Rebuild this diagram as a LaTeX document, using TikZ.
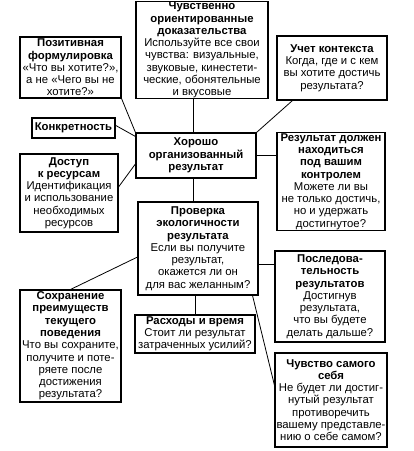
\documentclass[tikz,border=0pt]{standalone}
\usepackage{fontspec}
\setmainfont{Liberation Sans}
\usetikzlibrary{calc}
\tikzset{
  box/.style={draw=black, line width=0.8pt, align=center, inner sep=0.5pt,
    font=\fontsize{8.5}{9.2}\selectfont, fill=white},
  link/.style={draw=black, line width=0.6pt}
}
\begin{document}
\begin{tikzpicture}[x=0.75pt,y=-0.75pt]
\useasboundingbox[fill=white] (0,0) rectangle (414,451);
\node[box, minimum width=99pt, minimum height=72pt] (sens) at (202,50)
 {\textbf{Чувственно}\\\textbf{ориентированные}\\\textbf{доказательства}\\Используйте все свои\\чувства: визуальные,\\звуковые, кинестети-\\ческие, обонятельные\\и вкусовые};
\node[box, minimum width=75.75pt, minimum height=45.75pt] (pos) at (70.5,67.5)
 {\textbf{Позитивная}\\\textbf{формулировка}\\«Что вы хотите?»,\\а не «Чего вы не\\хотите?»};
\node[box, minimum width=82.5pt, minimum height=48pt] (ctx) at (332,68)
 {\textbf{Учет контекста}\\Когда, где и с кем\\вы хотите достичь\\результата?};
\node[box, minimum width=62.25pt, minimum height=15pt] (konk) at (73.5,128)
 {\textbf{Конкретность}};
\node[box, minimum width=73.5pt, minimum height=58.5pt] (dost) at (69,193)
 {\textbf{Доступ}\\\textbf{к ресурсам}\\Идентификация\\и использование\\необходимых\\ресурсов};
\node[box, minimum width=90pt, minimum height=33.75pt] (central) at (196,155.5)
 {\textbf{Хорошо}\\\textbf{организованный}\\\textbf{результат}};
\node[box, minimum width=81pt, minimum height=72.75pt] (ctrl) at (331,181.5)
 {\textbf{Результат должен}\\\textbf{находиться}\\\textbf{под вашим}\\\textbf{контролем}\\Можете ли вы\\не только достичь,\\но и удержать\\достигнутое?};
\node[box, minimum width=90pt, minimum height=69.75pt] (eco) at (198,248.5)
 {\textbf{Проверка}\\\textbf{экологичности}\\\textbf{результата}\\Если вы получите\\результат,\\окажется ли он\\для вас желанным?};
\node[box, minimum width=82.5pt, minimum height=68.25pt] (seq) at (330,296.5)
 {\textbf{Последова-}\\\textbf{тельность}\\\textbf{результатов}\\Достигнув\\результата,\\что вы будете\\делать дальше?};
\node[box, minimum width=75.75pt, minimum height=84pt] (sohr) at (70.5,346)
 {\textbf{Сохранение}\\\textbf{преимуществ}\\\textbf{текущего}\\\textbf{поведения}\\Что вы сохраните,\\получите и поте-\\ряете после\\достижения\\результата?};
\node[box, minimum width=90pt, minimum height=28.5pt] (costs) at (195,334)
 {\textbf{Расходы и время}\\Стоит ли результат\\затраченных усилий?};
\node[box, minimum width=84pt, minimum height=70.5pt] (self) at (331,400)
 {\textbf{Чувство самого}\\\textbf{себя}\\Не будет ли достиг-\\нутый результат\\противоречить\\вашему представле-\\нию о себе самом?};
% connectors
\draw[link] ([xshift=-2pt]central.north) -- ([xshift=-2pt]central.north |- sens.south);
\draw[link] (pos.south east) -- (central.north west);
\draw[link] ([yshift=2pt]konk.east) -- ([yshift=-3pt]central.north west);
\draw[link] ([yshift=4.5pt]dost.east) -- ([yshift=11pt]central.south west);
\draw[link] ([xshift=12pt]ctx.south west) -- (central.north east);
\draw[link] (central.east) -- (central.east -| ctrl.west);
\draw[link] ([xshift=-2pt]central.south) -- ([xshift=-2pt]central.south |- eco.north);
\draw[link] ([yshift=-6.4pt]eco.west) -- (sohr.north);
\draw[link] ([yshift=-11.6pt]eco.east) -- ([yshift=-11.6pt]eco.east -| seq.west);
\draw[link] (costs.north) -- (costs.north |- eco.south);
\draw[link] ([xshift=-4.5pt]eco.south east) -- ([yshift=11pt]self.west);
\end{tikzpicture}
\end{document}
